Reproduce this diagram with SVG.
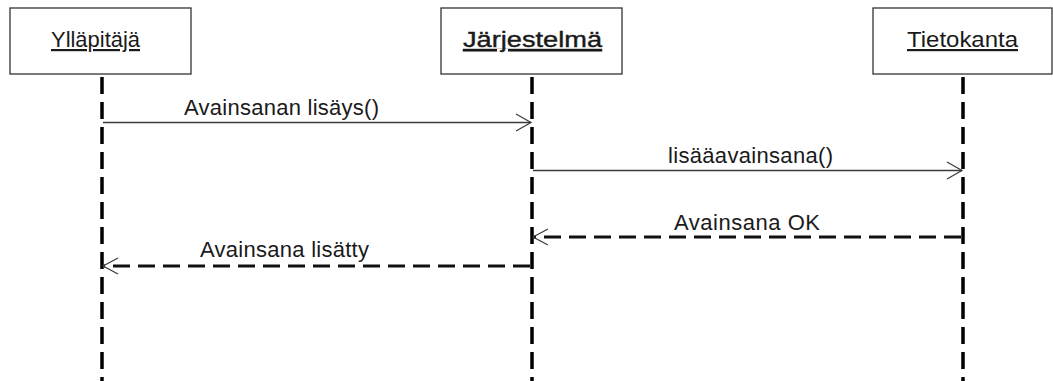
<svg xmlns="http://www.w3.org/2000/svg" width="1053" height="381" viewBox="0 0 1053 381">
  <style>
    .box { fill: #ffffff; stroke: #333333; stroke-width: 1.3; }
    .name { font-family: "Liberation Sans", Arial, sans-serif; font-size: 22px; fill: #1a1a1a; text-decoration: underline; }
    .life { stroke: #000000; stroke-width: 3.5; stroke-dasharray: 17 8; fill: none; }
    .call { stroke: #3a3a3a; stroke-width: 1.4; fill: none; }
    .ret { stroke: #111111; stroke-width: 3; stroke-dasharray: 17 8; fill: none; }
    .head { stroke: #3a3a3a; stroke-width: 1.2; fill: none; }
    .msg { font-family: "Liberation Sans", Arial, sans-serif; font-size: 22px; fill: #1a1a1a; }
  </style>
  <rect width="1053" height="381" fill="#ffffff"/>

  <!-- participants -->
  <g id="yllapitaja">
    <rect class="box" x="10" y="8" width="181" height="66"/>
    <text class="name" x="51" y="47" textLength="89" lengthAdjust="spacingAndGlyphs">Ylläpitäjä</text>
    <line class="life" x1="102" y1="77" x2="102" y2="381"/>
  </g>
  <g id="jarjestelma">
    <rect class="box" x="441" y="8" width="181" height="66"/>
    <text class="name" x="463" y="47" textLength="139" lengthAdjust="spacingAndGlyphs" style="stroke:#1a1a1a;stroke-width:0.4">Järjestelmä</text>
    <line class="life" x1="532" y1="77" x2="532" y2="381"/>
  </g>
  <g id="tietokanta">
    <rect class="box" x="873" y="8" width="179" height="66"/>
    <text class="name" x="907" y="47" textLength="111" lengthAdjust="spacingAndGlyphs">Tietokanta</text>
    <line class="life" x1="963" y1="77" x2="963" y2="381"/>
  </g>

  <!-- messages -->
  <g id="connectors">
    <g id="msg-avainsanan-lisays">
      <line class="call" x1="103" y1="122.5" x2="531" y2="122.5"/>
      <polyline class="head" points="516,114 531,122.5 516,131"/>
      <text class="msg" x="184" y="115" textLength="195">Avainsanan lisäys()</text>
    </g>
    <g id="msg-lisaaavainsana">
      <line class="call" x1="533" y1="170.5" x2="962" y2="170.5"/>
      <polyline class="head" points="947,162 962,170.5 947,179"/>
      <text class="msg" x="668" y="163" textLength="165">lisääavainsana()</text>
    </g>
    <g id="msg-avainsana-ok">
      <line class="ret" x1="961" y1="237" x2="534" y2="237"/>
      <polyline class="head" points="548,229 533,237 548,245"/>
      <text class="msg" x="674" y="230" textLength="146">Avainsana OK</text>
    </g>
    <g id="msg-avainsana-lisatty">
      <line class="ret" x1="530" y1="266" x2="104" y2="266"/>
      <polyline class="head" points="118,258 103,266 118,274"/>
      <text class="msg" x="200" y="257" textLength="169">Avainsana lisätty</text>
    </g>
  </g>
</svg>
